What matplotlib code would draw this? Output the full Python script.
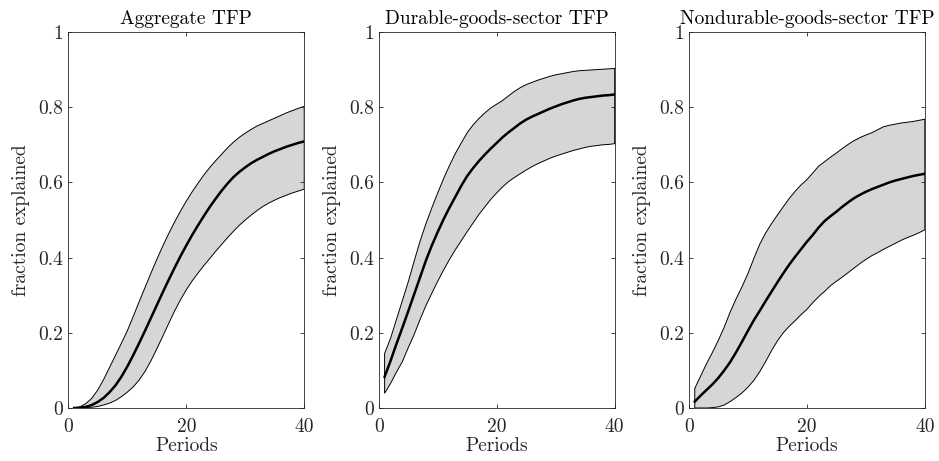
import numpy as np
import matplotlib
matplotlib.use("Agg")
import matplotlib.pyplot as plt

plt.rcParams["font.family"] = "cmr10"
plt.rcParams["mathtext.fontset"] = "cm"
plt.rcParams["axes.unicode_minus"] = False

periods = np.arange(1, 41)

titles = ["Aggregate TFP", "Durable-goods-sector TFP", "Nondurable-goods-sector TFP"]
xticks = [0, 20, 40]
yticks = [0, 0.2, 0.4, 0.6, 0.8, 1]
yticklabels = ["0", "0.2", "0.4", "0.6", "0.8", "1"]

agg_med = [0.000, 0.001, 0.003, 0.008, 0.016, 0.027, 0.042, 0.060, 0.083, 0.110,
           0.140, 0.172, 0.205, 0.239, 0.273, 0.307, 0.340, 0.372, 0.403, 0.432,
           0.460, 0.486, 0.511, 0.535, 0.557, 0.578, 0.597, 0.614, 0.628, 0.640,
           0.651, 0.660, 0.668, 0.676, 0.683, 0.689, 0.695, 0.700, 0.705, 0.709]
agg_hi = [0.000, 0.003, 0.012, 0.026, 0.048, 0.076, 0.108, 0.140, 0.172, 0.205,
          0.243, 0.282, 0.320, 0.358, 0.395, 0.430, 0.463, 0.494, 0.523, 0.550,
          0.575, 0.598, 0.620, 0.640, 0.658, 0.675, 0.692, 0.707, 0.720, 0.731,
          0.741, 0.750, 0.757, 0.764, 0.771, 0.778, 0.785, 0.791, 0.797, 0.802]
agg_lo = [0.000, 0.000, 0.001, 0.002, 0.004, 0.008, 0.013, 0.020, 0.030, 0.042,
          0.056, 0.074, 0.097, 0.125, 0.157, 0.190, 0.224, 0.257, 0.287, 0.314,
          0.338, 0.359, 0.379, 0.398, 0.417, 0.435, 0.453, 0.470, 0.486, 0.500,
          0.513, 0.525, 0.536, 0.545, 0.553, 0.560, 0.566, 0.572, 0.577, 0.582]

dur_med = [0.083, 0.125, 0.170, 0.213, 0.257, 0.302, 0.347, 0.392, 0.432, 0.468,
           0.502, 0.533, 0.562, 0.591, 0.617, 0.638, 0.657, 0.674, 0.690, 0.705,
           0.720, 0.733, 0.745, 0.757, 0.767, 0.775, 0.782, 0.789, 0.796, 0.802,
           0.808, 0.813, 0.818, 0.822, 0.825, 0.827, 0.829, 0.831, 0.832, 0.834]
dur_hi = [0.145, 0.185, 0.235, 0.285, 0.335, 0.390, 0.443, 0.490, 0.532, 0.572,
          0.610, 0.645, 0.677, 0.705, 0.732, 0.753, 0.770, 0.785, 0.798, 0.808,
          0.818, 0.830, 0.842, 0.852, 0.860, 0.866, 0.872, 0.877, 0.882, 0.886,
          0.889, 0.892, 0.895, 0.897, 0.898, 0.899, 0.900, 0.901, 0.902, 0.903]
dur_lo = [0.039, 0.065, 0.095, 0.123, 0.160, 0.195, 0.235, 0.272, 0.305, 0.337,
          0.367, 0.395, 0.421, 0.445, 0.469, 0.492, 0.515, 0.535, 0.555, 0.572,
          0.588, 0.602, 0.613, 0.623, 0.633, 0.642, 0.650, 0.657, 0.664, 0.670,
          0.675, 0.680, 0.685, 0.689, 0.693, 0.696, 0.698, 0.700, 0.701, 0.703]

nd_med = [0.017, 0.033, 0.048, 0.063, 0.080, 0.100, 0.122, 0.148, 0.176, 0.205,
          0.233, 0.258, 0.284, 0.309, 0.334, 0.358, 0.381, 0.402, 0.422, 0.442,
          0.460, 0.480, 0.497, 0.510, 0.522, 0.535, 0.547, 0.558, 0.567, 0.575,
          0.582, 0.588, 0.594, 0.600, 0.605, 0.609, 0.613, 0.617, 0.620, 0.623]
nd_hi = [0.052, 0.085, 0.118, 0.148, 0.180, 0.215, 0.255, 0.290, 0.322, 0.357,
         0.397, 0.435, 0.465, 0.490, 0.513, 0.535, 0.557, 0.576, 0.593, 0.607,
         0.625, 0.643, 0.655, 0.667, 0.678, 0.690, 0.701, 0.711, 0.719, 0.726,
         0.732, 0.740, 0.748, 0.752, 0.755, 0.758, 0.760, 0.762, 0.765, 0.768]
nd_lo = [0.000, 0.000, 0.000, 0.001, 0.003, 0.008, 0.017, 0.028, 0.040, 0.055,
         0.073, 0.096, 0.123, 0.152, 0.178, 0.200, 0.217, 0.232, 0.248, 0.262,
         0.280, 0.296, 0.310, 0.325, 0.337, 0.348, 0.360, 0.372, 0.384, 0.395,
         0.405, 0.413, 0.422, 0.430, 0.438, 0.446, 0.453, 0.459, 0.466, 0.474]

series = [(agg_med, agg_lo, agg_hi), (dur_med, dur_lo, dur_hi), (nd_med, nd_lo, nd_hi)]

dark = "#262626"
fig = plt.figure(figsize=(9.39, 4.61), dpi=100)
lefts = [0.0727, 0.4033, 0.7336]
for i, (med, lo, hi) in enumerate(series):
    ax = fig.add_axes([lefts[i], 0.115, 0.2513, 0.8156])
    lo = np.array(lo)
    hi = np.array(hi)
    ax.fill(np.r_[periods, periods[::-1]], np.r_[lo, hi[::-1]],
            facecolor="#d6d6d6", edgecolor="k", linewidth=0.7)
    ax.plot(periods, med, color="k", linewidth=1.8)
    ax.set_xlim(0, 40)
    ax.set_ylim(0, 1)
    ax.set_xticks(xticks)
    ax.set_yticks(yticks)
    ax.set_yticklabels(yticklabels)
    ax.tick_params(direction="in", length=3, width=0.6, colors=dark,
                   labelsize=14, top=True, right=True)
    ax.tick_params(axis="x", pad=7)
    ax.tick_params(axis="y", pad=3.5)
    for s in ax.spines.values():
        s.set_color(dark)
        s.set_linewidth(0.6)
    ax.set_title(titles[i], fontsize=14, color="k")
    ax.set_xlabel("Periods", fontsize=14, color=dark, labelpad=1)
    ax.set_ylabel("fraction explained", fontsize=14, color=dark, labelpad=6)

fig.savefig("out.png", dpi=100)
